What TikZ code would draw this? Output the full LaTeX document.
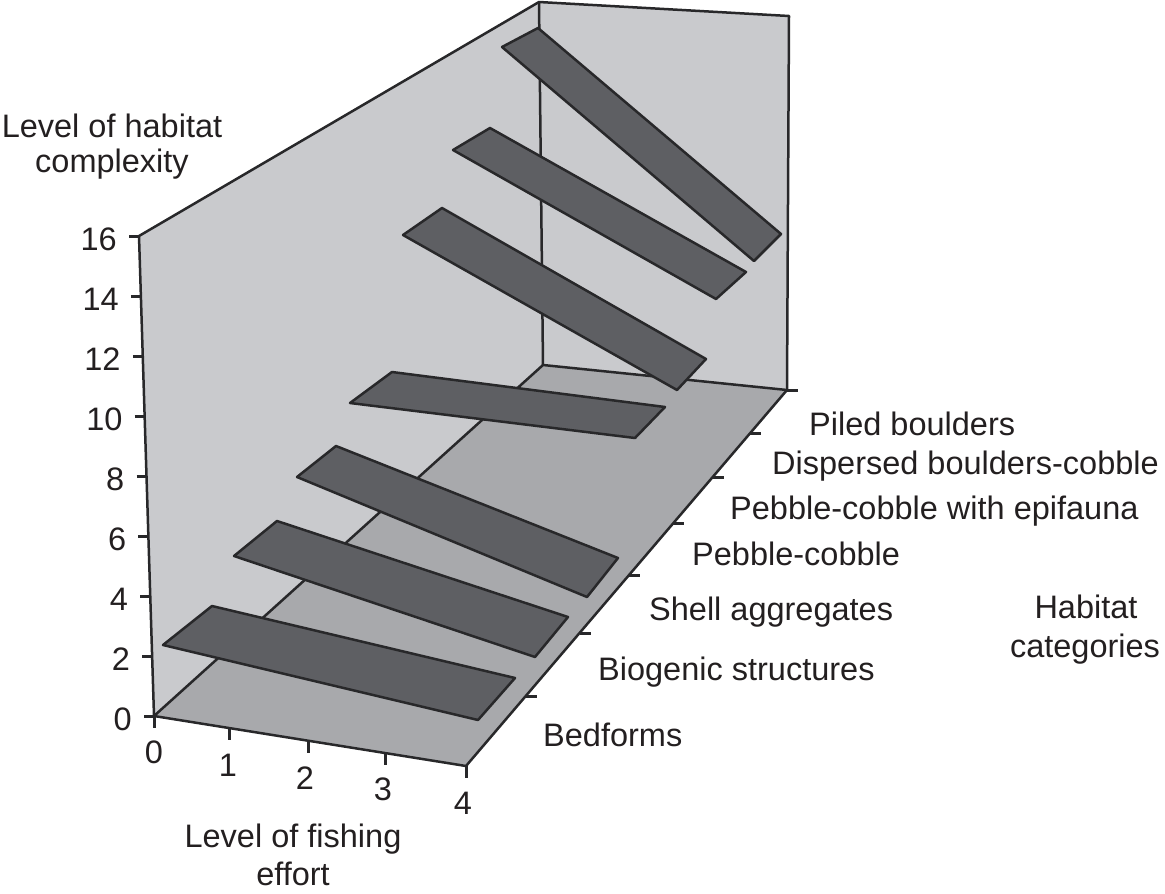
\documentclass[tikz,border=0pt]{standalone}
\usepackage{fontspec}
\setmainfont{Liberation Sans}
\definecolor{wallc}{RGB}{201,202,205}
\definecolor{floorc}{RGB}{168,169,172}
\definecolor{ribc}{RGB}{94,95,99}
\definecolor{edgec}{RGB}{40,40,42}
\definecolor{txtc}{RGB}{35,31,32}
\begin{document}
\begin{tikzpicture}[x=1pt,y=-1pt,
  lbl/.style={font=\fontsize{32.5}{39}\selectfont, text=txtc, inner sep=0pt},
  edge/.style={draw=edgec, line width=2.5pt, line join=round},
  tick/.style={draw=edgec, line width=3pt},
  rib/.style={fill=ribc, draw=edgec, line width=2.5pt, line join=round}]
\useasboundingbox (0,0) rectangle (1165,894);
% frame corners
\coordinate (LT) at (139,236);
\coordinate (BT) at (539,2);
\coordinate (RT) at (789,16);
\coordinate (FL) at (154,716);
\coordinate (BC) at (543,365);
\coordinate (BR) at (787,390);
\coordinate (FR) at (466,766);
% walls and floor
\fill[wallc] (LT)--(BT)--(BC)--(FL)--cycle;
\fill[wallc] (BT)--(RT)--(BR)--(BC)--cycle;
\fill[floorc] (FL)--(BC)--(BR)--(FR)--cycle;
\draw[edge] (FL)--(LT)--(BT)--(RT)--(BR)--(FR)--cycle;
\draw[edge] (BT)--(BC);
\draw[edge] (FL)--(BC)--(BR);
% vertical axis ticks and labels
\foreach \v [count=\k from 0] in {0,2,4,6,8,10,12,14,16}{
  \pgfmathsetmacro{\yy}{716-60*\k}
  \pgfmathsetmacro{\xx}{139+(\yy-236)*0.03125}
  \draw[tick] (\xx-10,\yy) -- (\xx,\yy);
  \node[lbl, anchor=east] (yl\k) at (\xx-22,\yy+3) {\v};
}
% fishing effort ticks
\foreach \x/\y [count=\k from 0] in {154/716,229/728,308/740.7,385/753,466/766}{
  \draw[tick] (\x,\y) -- (\x,\y+12);
}
\node[lbl] (f0) at (154,752) {0};
\node[lbl] (f1) at (228,765) {1};
\node[lbl] (f2) at (305,778) {2};
\node[lbl] (f3) at (383,789) {3};
\node[lbl] (f4) at (463,803) {4};
% habitat ticks
\foreach \y in {390,433,477,523,575,633,696}{
  \pgfmathsetmacro{\xx}{787-(\y-390)*0.8537}
  \draw[tick] (\xx,\y) -- (\xx+11,\y);
}
% ribbons, back to front
\draw[rib] (502,47)--(538,28)--(781,234)--(754,261)--cycle;
\draw[rib] (453,150)--(490,128)--(746,272)--(716,299)--cycle;
\draw[rib] (403,235)--(442,208)--(706,359)--(677,390)--cycle;
\draw[rib] (350,403)--(392,372)--(665,407)--(635,438)--cycle;
\draw[rib] (297,477)--(336,446)--(618,558)--(587,597)--cycle;
\draw[rib] (234,556)--(277,521)--(568,617)--(535,657)--cycle;
\draw[rib] (163,645)--(212,606)--(515,678)--(478,720)--cycle;
% category labels
\node[lbl, anchor=base west] (c7) at (809,435) {Piled boulders};
\node[lbl, anchor=base west] (c6) at (772,474) {Dispersed boulders-cobble};
\node[lbl, anchor=base west] (c5) at (730,519) {Pebble-cobble with epifauna};
\node[lbl, anchor=base west] (c4) at (692,565) {Pebble-cobble};
\node[lbl, anchor=base west] (c3) at (649,620) {Shell aggregates};
\node[lbl, anchor=base west] (c2) at (598,680) {Biogenic structures};
\node[lbl, anchor=base west] (c1) at (543,746) {Bedforms};
% axis titles
\node[lbl, anchor=base] (zt1) at (112,137) {Level of habitat};
\node[lbl, anchor=base] (zt2) at (112,172) {complexity};
\node[lbl, anchor=base] (xt1) at (293,847) {Level of fishing};
\node[lbl, anchor=base] (xt2) at (293,885) {effort};
\node[lbl, anchor=base] (ht1) at (1086,618) {Habitat};
\node[lbl, anchor=base] (ht2) at (1085,657) {categories};
\end{tikzpicture}
\end{document}
